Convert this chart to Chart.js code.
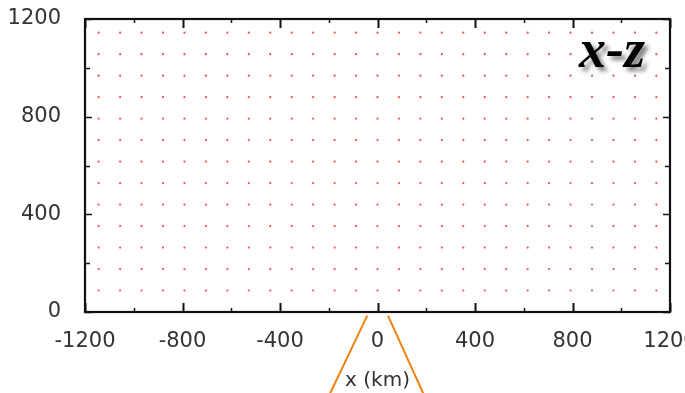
<!DOCTYPE html>
<html>
<head>
<meta charset="utf-8">
<script src="https://cdn.jsdelivr.net/npm/chart.js@4"></script>
<style>
  html, body { margin: 0; padding: 0; background: #fff; overflow: hidden; }
  #wrap { position: relative; width: 720px; height: 393px; }
</style>
</head>
<body>
<div id="wrap"><canvas id="c" width="720" height="393"></canvas></div>
<script>
// ---- data ----
const gridX = [-1144,-1056,-968,-880,-792,-704,-616,-528,-440,-352,-264,-176,-88,0,88,176,264,352,440,528,616,704,792,880,968,1056,1144];
const gridZ = [88,176,264,352,440,528,616,704,792,880,968,1056,1144];
const leftLineX = [-42, -200];
const leftLineZ = [-15, -345];
const rightLineX = [43, 193];
const rightLineZ = [-15, -345];
const xTickValues = [-1200, -800, -400, 0, 400, 800, 1200];
const zTickValues = [0, 400, 800, 1200];
const panelLabel = 'x-z';
const xTitle = 'x (km)';

const dots = [];
for (const z of gridZ) for (const x of gridX) dots.push({x: x, y: z});
const toPts = (xs, zs) => xs.map((x, i) => ({x: x, y: zs[i]}));

const frameAndTicks = {
  id: 'frameAndTicks',
  afterDatasetsDraw(chart) {
    const ctx = chart.ctx, a = chart.chartArea;
    const xs = chart.scales.x, ys = chart.scales.y;
    ctx.save();
    ctx.strokeStyle = '#111';
    for (let v = -1200; v <= 1200; v += 200) {
      const px = Math.round(xs.getPixelForValue(v)) + 0.5;
      const major = v % 400 === 0;
      const len = major ? 9 : 4;
      ctx.lineWidth = major ? 2 : 1.5;
      ctx.beginPath();
      ctx.moveTo(px, a.bottom); ctx.lineTo(px, a.bottom - len);
      ctx.moveTo(px, a.top); ctx.lineTo(px, a.top + len);
      ctx.stroke();
    }
    for (let v = 0; v <= 1200; v += 200) {
      const py = Math.round(ys.getPixelForValue(v)) + 0.5;
      const major = v % 400 === 0;
      const len = major ? 7 : 5;
      ctx.lineWidth = 1.5;
      ctx.beginPath();
      ctx.moveTo(a.left, py); ctx.lineTo(a.left + len, py);
      ctx.moveTo(a.right, py); ctx.lineTo(a.right - len, py);
      ctx.stroke();
    }
    ctx.lineWidth = 2.2;
    ctx.strokeStyle = '#111';
    ctx.strokeRect(a.left, a.top, a.right - a.left, a.bottom - a.top);
    ctx.font = 'italic bold 54px "Liberation Serif"';
    ctx.textAlign = 'left';
    ctx.textBaseline = 'alphabetic';
    ctx.shadowColor = 'rgba(0,0,0,0.5)';
    ctx.shadowOffsetX = 4;
    ctx.shadowOffsetY = 4;
    ctx.shadowBlur = 4;
    ctx.fillStyle = '#000';
    ctx.fillText(panelLabel, 579, 67);
    ctx.restore();
  }
};

const plainNum = v => String(v);

new Chart(document.getElementById('c'), {
  type: 'scatter',
  data: {
    datasets: [
      {
        data: dots,
        pointRadius: 1.1,
        pointHoverRadius: 1.1,
        pointBorderWidth: 0,
        backgroundColor: 'rgba(255,40,40,0.85)',
        borderColor: 'rgba(255,40,40,0.85)',
        showLine: false
      },
      {
        data: toPts(leftLineX, leftLineZ),
        showLine: true, pointRadius: 0, borderColor: '#f08010', borderWidth: 2, clip: false
      },
      {
        data: toPts(rightLineX, rightLineZ),
        showLine: true, pointRadius: 0, borderColor: '#f08010', borderWidth: 2, clip: false
      }
    ]
  },
  options: {
    responsive: false,
    animation: false,
    events: [],
    layout: { padding: { left: 0, right: 50, top: 19, bottom: 0 } },
    plugins: { legend: { display: false }, tooltip: { enabled: false } },
    scales: {
      x: {
        type: 'linear', min: -1200, max: 1200,
        afterBuildTicks: s => { s.ticks = xTickValues.map(v => ({value: v})); },
        afterFit: s => { s.height = 81; s.paddingLeft = 0; s.paddingRight = 0; },
        grid: { display: false, drawTicks: false },
        border: { display: false },
        ticks: { color: '#333', font: { family: '"DejaVu Sans"', size: 21 }, padding: 17, maxRotation: 0, autoSkip: false, callback: plainNum },
        title: { display: true, text: xTitle, color: '#333', font: { family: '"DejaVu Sans"', size: 20 }, padding: { top: 0, bottom: 0 } }
      },
      y: {
        type: 'linear', min: 0, max: 1200,
        afterBuildTicks: s => { s.ticks = zTickValues.map(v => ({value: v})); },
        afterFit: s => { s.width = 85; s.paddingTop = 0; s.paddingBottom = 0; },
        grid: { display: false, drawTicks: false },
        border: { display: false },
        ticks: { color: '#333', font: { family: '"DejaVu Sans"', size: 21 }, padding: 24, autoSkip: false, callback: plainNum }
      }
    }
  },
  plugins: [frameAndTicks]
});
</script>
</body>
</html>
